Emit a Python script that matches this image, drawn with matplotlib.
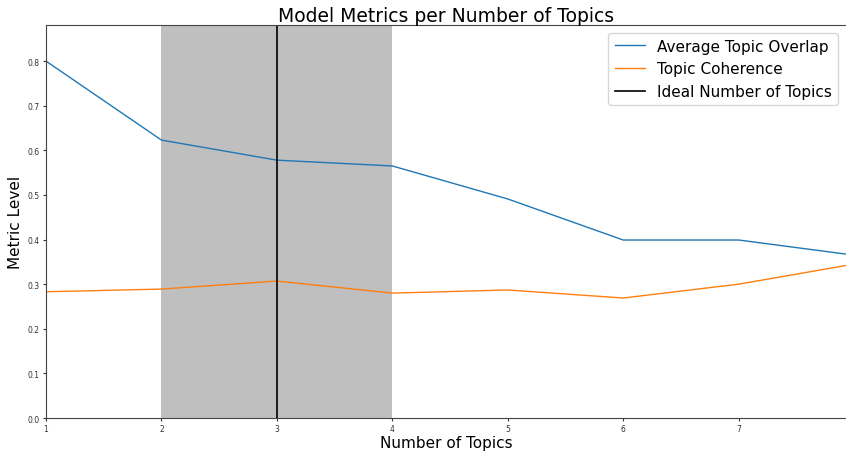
import matplotlib
matplotlib.use("Agg")
import matplotlib.pyplot as plt

topics = [1, 2, 3, 4, 5, 6, 7, 8]
overlap = [0.800, 0.623, 0.578, 0.565, 0.491, 0.399, 0.399, 0.365]
coherence = [0.283, 0.289, 0.307, 0.280, 0.287, 0.269, 0.300, 0.345]
ideal = 3
band = (2, 4)
xticks = [1, 2, 3, 4, 5, 6, 7]

fig = plt.figure(figsize=(8.46, 4.52), dpi=100)
ax = fig.add_axes([0.0544, 0.073, 0.9456, 0.8695])

ax.axvspan(band[0], band[1], color="grey", alpha=0.5, lw=0)
ax.plot(topics, overlap, color="#1f77b4", lw=1, label="Average Topic Overlap")
ax.plot(topics, coherence, color="#ff7f0e", lw=1, label="Topic Coherence")
ax.axvline(ideal, color="black", lw=1.2, label="Ideal Number of Topics")

ax.set_xlim(1, 7.93)
ax.set_ylim(0, 0.881)
ax.set_xticks(xticks)
ax.set_yticks([0.0, 0.1, 0.2, 0.3, 0.4, 0.5, 0.6, 0.7, 0.8])
ax.tick_params(labelsize=5.5, length=2.5, pad=2, colors="#333333")
for s in ax.spines.values():
    s.set_color("#444444")
ax.spines["right"].set_visible(False)

ax.set_title("Model Metrics per Number of Topics", fontsize=13.5, pad=2)
ax.set_xlabel("Number of Topics", fontsize=11, labelpad=1)
ax.set_ylabel("Metric Level", fontsize=11, labelpad=3)
ax.legend(loc="upper right", fontsize=11, borderaxespad=0.5)

fig.savefig("out.png", dpi=100)
